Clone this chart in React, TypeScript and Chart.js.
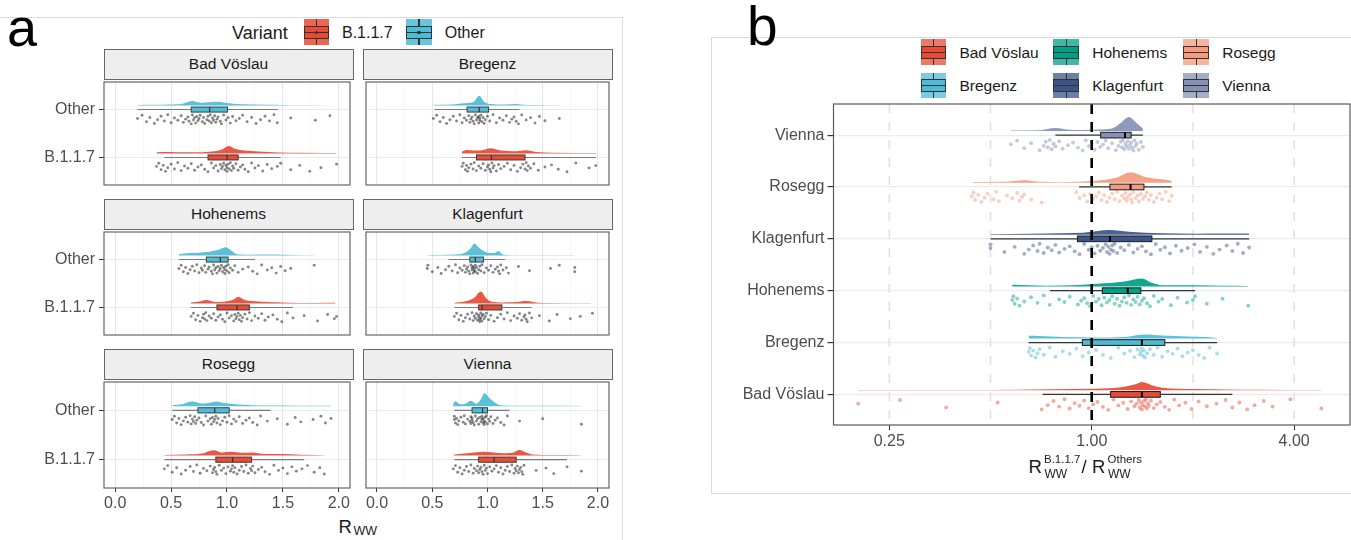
import React, { useEffect, useRef } from 'react';
import { Chart, registerables } from 'chart.js';

Chart.register(...registerables);

const FONT = '"Liberation Sans", Arial, Helvetica, sans-serif';
Chart.defaults.font.family = FONT;

/* ================= Panel a : data ================= */
const FACETS = ['Bad Vöslau', 'Bregenz', 'Hohenems', 'Klagenfurt', 'Rosegg', 'Vienna'];
const VARIANTS = ['Other', 'B.1.1.7'];
const VARIANT_COLORS = ['#4DBBD5', '#E64B35'];
const LEGEND_A_LABELS = ['B.1.1.7', 'Other'];
const LEGEND_A_COLORS = ['#E64B35', '#4DBBD5'];
const X_TICKS_A = [0, 0.5, 1, 1.5, 2];
const X_TICK_LABELS_A = ['0.0', '0.5', '1.0', '1.5', '2.0'];
const X_MINOR_A = [0.25, 0.75, 1.25, 1.75];

// jittered points (R_WW values)
const PTS_BV_OTHER = [0.20,0.24,0.28,0.31,0.35,0.38,0.41,0.44,0.47,0.50,0.53,0.56,0.59,0.61,0.63,0.65,0.66,0.68,0.69,0.70,0.71,0.72,0.73,0.74,0.75,0.76,0.78,0.79,0.80,0.82,0.83,0.84,0.85,0.86,0.87,0.88,0.89,0.90,0.91,0.92,0.94,0.95,0.97,0.99,1.01,1.03,1.05,1.08,1.11,1.14,1.18,1.22,1.26,1.30,1.34,1.38,1.42,1.45,1.57,1.79,1.92];
const PTS_BV_B117 = [0.37,0.39,0.41,0.43,0.45,0.47,0.50,0.53,0.56,0.59,0.62,0.65,0.68,0.71,0.74,0.77,0.80,0.83,0.86,0.88,0.90,0.92,0.94,0.95,0.96,0.97,0.98,0.99,1.00,1.00,1.01,1.02,1.03,1.04,1.05,1.06,1.08,1.10,1.12,1.14,1.16,1.19,1.22,1.25,1.28,1.32,1.36,1.40,1.45,1.48,1.57,1.65,1.74,1.84,1.98];
const PTS_BR_OTHER = [0.51,0.54,0.57,0.60,0.63,0.66,0.69,0.72,0.75,0.77,0.79,0.81,0.83,0.84,0.85,0.86,0.87,0.88,0.89,0.90,0.91,0.92,0.92,0.93,0.93,0.94,0.95,0.96,0.97,0.98,1.00,1.02,1.05,1.08,1.11,1.14,1.17,1.20,1.22,1.24,1.26,1.28,1.31,1.35,1.39,1.43,1.47,1.52,1.65];
const PTS_BR_B117 = [0.77,0.78,0.80,0.81,0.82,0.83,0.85,0.87,0.88,0.90,0.92,0.94,0.96,0.98,1.00,1.01,1.02,1.03,1.04,1.05,1.06,1.08,1.10,1.12,1.15,1.18,1.21,1.24,1.27,1.30,1.32,1.34,1.35,1.36,1.37,1.39,1.42,1.46,1.52,1.58,1.64,1.72,1.80,1.92,1.98];
const PTS_HO_OTHER = [0.57,0.59,0.61,0.63,0.65,0.67,0.69,0.71,0.73,0.75,0.77,0.78,0.80,0.81,0.83,0.84,0.86,0.87,0.88,0.89,0.90,0.91,0.92,0.93,0.94,0.95,0.96,0.97,0.98,0.98,0.99,1.00,1.01,1.02,1.03,1.05,1.07,1.10,1.14,1.19,1.23,1.27,1.31,1.36,1.40,1.44,1.48,1.52,1.57,1.78];
const PTS_HO_B117 = [0.68,0.70,0.72,0.74,0.76,0.78,0.79,0.80,0.81,0.82,0.84,0.86,0.88,0.90,0.92,0.94,0.96,0.98,1.00,1.02,1.04,1.06,1.07,1.08,1.09,1.10,1.11,1.12,1.13,1.14,1.16,1.18,1.20,1.22,1.25,1.28,1.31,1.34,1.37,1.41,1.45,1.49,1.54,1.59,1.69,1.81,1.90,1.96,1.98];
const PTS_KL_OTHER = [0.455,0.46,0.50,0.55,0.58,0.62,0.65,0.68,0.71,0.73,0.75,0.77,0.79,0.80,0.81,0.82,0.83,0.84,0.85,0.86,0.86,0.87,0.87,0.88,0.88,0.89,0.89,0.90,0.91,0.92,0.93,0.94,0.95,0.97,0.99,1.01,1.03,1.05,1.07,1.09,1.10,1.11,1.12,1.14,1.17,1.19,1.28,1.38,1.57,1.65,1.79,1.79];
const PTS_KL_B117 = [0.70,0.72,0.74,0.76,0.78,0.80,0.82,0.84,0.86,0.87,0.88,0.89,0.90,0.91,0.92,0.92,0.93,0.93,0.94,0.94,0.95,0.95,0.96,0.97,0.98,0.99,1.01,1.03,1.06,1.09,1.12,1.15,1.18,1.21,1.24,1.27,1.29,1.31,1.33,1.34,1.35,1.36,1.38,1.40,1.47,1.56,1.63,1.75,1.84,1.95];
const PTS_RO_OTHER = [0.51,0.53,0.55,0.57,0.59,0.61,0.63,0.65,0.67,0.68,0.69,0.70,0.71,0.72,0.73,0.75,0.77,0.79,0.81,0.83,0.85,0.86,0.87,0.88,0.89,0.90,0.91,0.92,0.94,0.96,0.98,1.00,1.02,1.04,1.06,1.08,1.11,1.14,1.17,1.20,1.23,1.27,1.30,1.36,1.45,1.54,1.61,1.66,1.77,1.84,1.88,1.93];
const PTS_RO_B117 = [0.44,0.47,0.51,0.55,0.59,0.63,0.67,0.70,0.73,0.76,0.79,0.82,0.85,0.87,0.88,0.89,0.90,0.91,0.93,0.95,0.97,0.99,1.01,1.03,1.04,1.05,1.06,1.07,1.09,1.11,1.13,1.15,1.17,1.19,1.21,1.22,1.23,1.25,1.28,1.31,1.34,1.38,1.42,1.46,1.50,1.54,1.58,1.62,1.67,1.72,1.78,1.83,1.87];
const PTS_VI_OTHER = [0.70,0.70,0.71,0.72,0.73,0.74,0.76,0.78,0.79,0.80,0.82,0.84,0.85,0.85,0.86,0.86,0.87,0.88,0.89,0.90,0.91,0.92,0.93,0.94,0.95,0.95,0.96,0.96,0.97,0.97,0.98,0.98,0.99,1.00,1.01,1.02,1.03,1.05,1.07,1.09,1.12,1.15,1.18,1.29,1.50,1.85];
const PTS_VI_B117 = [0.69,0.71,0.73,0.75,0.77,0.79,0.81,0.83,0.85,0.87,0.88,0.90,0.91,0.92,0.93,0.94,0.95,0.96,0.97,0.98,0.99,1.00,1.02,1.04,1.06,1.08,1.10,1.12,1.14,1.16,1.18,1.20,1.22,1.24,1.25,1.26,1.27,1.28,1.29,1.30,1.31,1.32,1.33,1.44,1.53,1.60,1.72,1.85];

// box stats: [lower whisker, Q1, median, Q3, upper whisker]
const BOX_BV_OTHER = [0.20, 0.68, 0.845, 1.005, 1.455];
const BOX_BV_B117 = [0.44, 0.83, 1.0, 1.10, 1.48];
const BOX_BR_OTHER = [0.52, 0.815, 0.925, 1.01, 1.29];
const BOX_BR_B117 = [0.77, 0.90, 1.035, 1.34, 1.98];
const BOX_HO_OTHER = [0.57, 0.815, 0.94, 1.01, 1.25];
const BOX_HO_B117 = [0.675, 0.91, 1.09, 1.20, 1.59];
const BOX_KL_OTHER = [0.647, 0.84, 0.89, 0.965, 1.16];
const BOX_KL_B117 = [0.70, 0.92, 0.95, 1.13, 1.40];
const BOX_RO_OTHER = [0.51, 0.74, 0.89, 1.02, 1.39];
const BOX_RO_B117 = [0.44, 0.90, 1.05, 1.22, 1.69];
const BOX_VI_OTHER = [0.70, 0.86, 0.955, 1.0, 1.2];
const BOX_VI_B117 = [0.70, 0.92, 1.06, 1.26, 1.72];

// half-violin density outlines: [x, density]
const DENS_BV_OTHER = [[0.20,0.6],[0.35,0.8],[0.485,1.0],[0.60,1.8],[0.69,4.7],[0.765,2.8],[0.84,3.4],[0.90,4.0],[0.985,3.0],[1.13,1.3],[1.37,0.8],[1.50,0.6],[1.66,0.3],[1.93,0.1]];
const DENS_BV_B117 = [[0.37,1.3],[0.485,1.5],[0.63,1.2],[0.78,1.3],[0.90,2.5],[0.97,5.0],[1.015,7.7],[1.07,5.0],[1.16,3.0],[1.28,2.0],[1.46,1.0],[1.66,0.6],[1.98,0.3]];
const DENS_BR_OTHER = [[0.51,0.7],[0.68,1.0],[0.765,2.0],[0.84,3.0],[0.88,4.3],[0.925,10.3],[0.97,4.0],[1.03,1.5],[1.15,1.0],[1.25,1.5],[1.32,0.8],[1.44,0.5],[1.65,0.2]];
const DENS_BR_B117 = [[0.765,1.5],[0.81,3.5],[0.88,3.0],[0.94,3.0],[1.03,5.3],[1.12,3.0],[1.235,2.2],[1.35,3.3],[1.44,1.5],[1.59,0.6],[1.985,0.3]];
const DENS_HO_OTHER = [[0.57,1.3],[0.66,2.5],[0.75,3.0],[0.84,4.0],[0.925,6.0],[0.99,8.7],[1.04,5.0],[1.09,1.3],[1.22,0.8],[1.43,1.0],[1.57,0.5],[1.78,0.2]];
const DENS_HO_B117 = [[0.675,1.0],[0.75,2.0],[0.81,3.7],[0.90,1.5],[0.985,2.0],[1.06,4.0],[1.10,7.0],[1.16,3.5],[1.28,2.0],[1.43,1.3],[1.66,0.5],[1.90,0.8],[1.97,0.6]];
const DENS_KL_OTHER = [[0.455,0.3],[0.56,0.5],[0.71,1.0],[0.79,2.5],[0.85,8.0],[0.88,12.7],[0.925,8.0],[1.0,3.0],[1.06,2.5],[1.10,4.7],[1.13,1.5],[1.20,0.3],[1.44,0.2],[1.79,0.2]];
const DENS_KL_B117 = [[0.70,0.5],[0.79,2.0],[0.88,6.0],[0.94,12.7],[0.985,6.0],[1.03,2.0],[1.15,1.0],[1.26,1.5],[1.35,2.5],[1.41,1.5],[1.50,0.4],[1.94,0.2]];
const DENS_RO_OTHER = [[0.51,1.0],[0.60,2.0],[0.69,4.7],[0.78,2.7],[0.87,4.0],[0.90,4.7],[0.985,3.0],[1.07,2.0],[1.22,1.0],[1.37,0.6],[1.66,0.5],[1.93,0.3]];
const DENS_RO_B117 = [[0.44,0.5],[0.63,1.0],[0.78,2.0],[0.88,5.3],[0.955,3.0],[1.045,3.7],[1.13,2.7],[1.22,3.0],[1.34,1.5],[1.485,1.5],[1.66,0.8],[1.87,0.3]];
const DENS_VI_OTHER = [[0.69,3.0],[0.71,5.0],[0.75,2.0],[0.79,2.0],[0.85,5.5],[0.90,2.5],[0.94,7.0],[0.97,13.3],[1.03,7.0],[1.09,2.0],[1.15,0.7],[1.29,0.3],[1.5,0.3],[1.85,0.2]];
const DENS_VI_B117 = [[0.69,0.7],[0.79,2.0],[0.88,3.0],[0.97,3.7],[1.06,3.0],[1.15,2.3],[1.235,3.0],[1.29,5.5],[1.35,3.0],[1.41,1.0],[1.59,0.4],[1.85,0.2]];

const FACET_GROUPS = [
  [{ pts: PTS_BV_OTHER, box: BOX_BV_OTHER, dens: DENS_BV_OTHER }, { pts: PTS_BV_B117, box: BOX_BV_B117, dens: DENS_BV_B117 }],
  [{ pts: PTS_BR_OTHER, box: BOX_BR_OTHER, dens: DENS_BR_OTHER }, { pts: PTS_BR_B117, box: BOX_BR_B117, dens: DENS_BR_B117 }],
  [{ pts: PTS_HO_OTHER, box: BOX_HO_OTHER, dens: DENS_HO_OTHER }, { pts: PTS_HO_B117, box: BOX_HO_B117, dens: DENS_HO_B117 }],
  [{ pts: PTS_KL_OTHER, box: BOX_KL_OTHER, dens: DENS_KL_OTHER }, { pts: PTS_KL_B117, box: BOX_KL_B117, dens: DENS_KL_B117 }],
  [{ pts: PTS_RO_OTHER, box: BOX_RO_OTHER, dens: DENS_RO_OTHER }, { pts: PTS_RO_B117, box: BOX_RO_B117, dens: DENS_RO_B117 }],
  [{ pts: PTS_VI_OTHER, box: BOX_VI_OTHER, dens: DENS_VI_OTHER }, { pts: PTS_VI_B117, box: BOX_VI_B117, dens: DENS_VI_B117 }],
];

/* ================= Panel b : data ================= */
const SITES_B = ['Vienna', 'Rosegg', 'Klagenfurt', 'Hohenems', 'Bregenz', 'Bad Vöslau']; // top to bottom
const SITE_COLORS: Record<string, string> = {
  'Bad Vöslau': '#E64B35', 'Bregenz': '#4DBBD5', 'Hohenems': '#00A087',
  'Klagenfurt': '#3C5488', 'Rosegg': '#F39B7F', 'Vienna': '#8491B4',
};
const LEGEND_B = [['Bad Vöslau', 'Bregenz'], ['Hohenems', 'Klagenfurt'], ['Rosegg', 'Vienna']];
const X_TICKS_B = [0.25, 1, 4];
const X_TICK_LABELS_B = ['0.25', '1.00', '4.00'];
const X_GRID_B = [0.25, 0.5, 1, 2, 4];
const REF_B = 1;

const PTS_VIENNA = [0.575,0.60,0.63,0.66,0.70,0.72,0.73,0.74,0.75,0.76,0.77,0.78,0.80,0.82,0.85,0.88,0.91,0.94,0.96,0.98,1.00,1.02,1.04,1.06,1.08,1.10,1.12,1.15,1.18,1.20,1.22,1.23,1.24,1.25,1.26,1.27,1.28,1.29,1.30,1.31,1.32,1.33,1.34,1.35,1.36,1.38,1.40,1.42];
const PTS_ROSEGG = [0.44,0.445,0.45,0.46,0.47,0.48,0.49,0.51,0.52,0.53,0.56,0.58,0.60,0.61,0.62,0.63,0.66,0.71,0.90,0.92,0.95,0.97,0.99,1.01,1.03,1.05,1.07,1.09,1.11,1.13,1.15,1.17,1.19,1.21,1.23,1.25,1.26,1.27,1.28,1.30,1.31,1.32,1.33,1.35,1.37,1.38,1.40,1.42,1.44,1.46,1.48,1.50,1.53,1.56,1.59,1.62,1.66,1.70,1.73];
const PTS_KLAGENFURT = [0.50,0.50,0.55,0.59,0.63,0.65,0.67,0.69,0.70,0.72,0.74,0.76,0.78,0.80,0.83,0.86,0.89,0.92,0.95,0.98,1.00,1.02,1.04,1.06,1.08,1.10,1.11,1.12,1.13,1.14,1.15,1.16,1.17,1.19,1.22,1.25,1.29,1.33,1.37,1.41,1.45,1.50,1.55,1.60,1.65,1.71,1.78,1.85,1.93,2.02,2.10,2.20,2.30,2.40,2.52,2.62,2.72,2.82,2.94];
const PTS_HOHENEMS = [0.58,0.585,0.59,0.60,0.61,0.63,0.66,0.69,0.72,0.75,0.80,0.83,0.86,0.91,0.93,0.95,0.97,0.99,1.01,1.03,1.05,1.07,1.09,1.11,1.13,1.15,1.17,1.19,1.21,1.23,1.25,1.27,1.29,1.31,1.33,1.35,1.37,1.39,1.41,1.43,1.46,1.49,1.53,1.58,1.62,1.72,1.80,1.92,2.00,2.03,2.20,2.45,2.92];
const PTS_BREGENZ = [0.65,0.655,0.66,0.67,0.68,0.69,0.70,0.72,0.75,0.78,0.82,0.86,0.90,0.94,0.98,1.03,1.08,1.14,1.20,1.25,1.30,1.34,1.37,1.39,1.40,1.41,1.42,1.43,1.44,1.46,1.49,1.53,1.57,1.62,1.68,1.74,1.80,1.86,1.93,2.00,2.08,2.16,2.24,2.36];
const PTS_BADV = [0.202,0.269,0.369,0.525,0.71,0.74,0.77,0.80,0.83,0.86,0.89,0.92,0.95,0.98,1.01,1.04,1.08,1.12,1.16,1.20,1.24,1.28,1.31,1.34,1.36,1.38,1.39,1.40,1.41,1.42,1.43,1.44,1.45,1.46,1.47,1.48,1.50,1.53,1.56,1.60,1.65,1.70,1.76,1.82,1.90,1.98,2.08,2.20,2.35,2.50,2.62,2.75,2.90,3.05,3.25,3.45,3.90,4.82];

const BOX_VIENNA = [0.78, 1.063, 1.256, 1.31, 1.42];
const BOX_ROSEGG = [0.917, 1.133, 1.305, 1.43, 1.73];
const BOX_KLAGENFURT = [0.5, 0.907, 1.133, 1.51, 2.94];
const BOX_HOHENEMS = [0.751, 1.075, 1.28, 1.40, 2.03];
const BOX_BREGENZ = [0.649, 0.938, 1.41, 1.65, 2.36];
const BOX_BADV = [0.714, 1.138, 1.41, 1.60, 2.62];

const DENS_VIENNA = [[0.575,0.5],[0.70,0.8],[0.78,3.0],[0.86,1.2],[0.94,1.0],[1.05,1.5],[1.15,2.5],[1.22,8.0],[1.29,14.0],[1.36,8.0],[1.42,2.5]];
const DENS_ROSEGG = [[0.443,0.8],[0.55,1.0],[0.63,2.7],[0.70,1.0],[0.80,0.7],[0.92,1.2],[1.03,2.0],[1.18,5.0],[1.305,10.7],[1.445,6.0],[1.62,3.5],[1.73,2.0]];
const DENS_KLAGENFURT = [[0.5,0.5],[0.65,1.0],[0.82,1.5],[0.94,2.0],[1.13,4.7],[1.29,3.0],[1.62,1.5],[2.03,1.0],[2.5,1.2],[2.94,1.3]];
const DENS_HOHENEMS = [[0.58,1.8],[0.65,1.2],[0.73,0.7],[0.92,1.5],[1.07,3.0],[1.25,5.0],[1.41,8.0],[1.5,4.0],[1.62,1.2],[2.03,1.2],[2.5,0.7],[2.92,0.5]];
const DENS_BREGENZ = [[0.649,2.7],[0.70,2.5],[0.82,1.5],[1.03,1.0],[1.25,1.5],[1.445,4.0],[1.62,3.0],[1.93,2.0],[2.2,1.5],[2.36,0.5]];
const DENS_BADV = [[0.202,0.3],[0.4,0.3],[0.6,0.5],[0.74,1.0],[1.03,1.5],[1.22,3.0],[1.35,6.0],[1.41,8.3],[1.51,5.0],[1.62,2.5],[2.03,1.2],[2.55,0.8],[3.2,0.5],[4.82,0.2]];

const SITE_GROUPS = [
  { pts: PTS_VIENNA, box: BOX_VIENNA, dens: DENS_VIENNA },
  { pts: PTS_ROSEGG, box: BOX_ROSEGG, dens: DENS_ROSEGG },
  { pts: PTS_KLAGENFURT, box: BOX_KLAGENFURT, dens: DENS_KLAGENFURT },
  { pts: PTS_HOHENEMS, box: BOX_HOHENEMS, dens: DENS_HOHENEMS },
  { pts: PTS_BREGENZ, box: BOX_BREGENZ, dens: DENS_BREGENZ },
  { pts: PTS_BADV, box: BOX_BADV, dens: DENS_BADV },
];

// fixed vertical jitter pattern (fractions of the rain band)
const JITTER = [0.42,0.08,0.77,0.31,0.95,0.56,0.18,0.69,0.02,0.87,0.37,0.61,0.13,0.83,0.49,0.26,0.72,0.99,0.05,0.58,0.34,0.91,0.21,0.66];

/* ================= layout / style ================= */
const COLS_A = [[104, 353], [363, 612]];
const ROWS_A = [[79, 188], [229, 338], [379, 488]];
const A_X_MIN = -0.1, A_X_MAX = 2.1;
const A_Y_MIN = 0.425, A_Y_MAX = 2.575;
const B_X_MIN = 0.1706, B_X_MAX = 5.865;
const B_Y_MIN = 0.4, B_Y_MAX = 6.59;

function hexA(hex: string, a: number) {
  const n = parseInt(hex.slice(1), 16);
  return `rgba(${(n >> 16) & 255},${(n >> 8) & 255},${n & 255},${a})`;
}

type Group = { pts: number[]; box: number[]; dens: number[][]; color: string };

function rainDatasets(groups: Group[], st: any) {
  const ds: any[] = [];
  groups.forEach((g, gi) => {
    const cat = gi + 1;
    const base = cat - st.densOffset;
    ds.push({
      type: 'line',
      data: g.dens.map(([x, h]) => ({ x, y: base - h * st.densScale })),
      fill: { value: base },
      backgroundColor: hexA(g.color, st.densAlpha),
      borderColor: 'rgba(0,0,0,0)',
      borderWidth: 0,
      pointRadius: 0,
      cubicInterpolationMode: 'monotone',
    });
  });
  groups.forEach((g, gi) => {
    const cat = gi + 1;
    ds.push({
      type: 'scatter',
      data: g.pts.map((x, i) => ({ x, y: cat + st.jitLo + JITTER[i % JITTER.length] * (st.jitHi - st.jitLo) })),
      backgroundColor: st.ptColor ? st.ptColor : hexA(g.color, st.ptAlpha),
      borderWidth: 0,
      pointRadius: st.ptRadius,
    });
  });
  return ds;
}

function boxPlugin(groups: Group[], st: any, ref?: any) {
  return {
    id: 'rainBoxes',
    beforeDatasetsDraw(chart: any) {
      if (!ref) return;
      const { ctx, chartArea, scales } = chart;
      ctx.save();
      ctx.strokeStyle = ref.gridColor;
      ctx.lineWidth = ref.gridWidth;
      ctx.setLineDash(ref.gridDash);
      ref.grid.forEach((v: number) => {
        const px = scales.x.getPixelForValue(v);
        ctx.beginPath();
        ctx.moveTo(px, chartArea.top);
        ctx.lineTo(px, chartArea.bottom);
        ctx.stroke();
      });
      ctx.restore();
    },
    afterDatasetsDraw(chart: any) {
      const { ctx, chartArea, scales } = chart;
      const x = scales.x, y = scales.y;
      groups.forEach((g, gi) => {
        const cat = gi + 1;
        const [lo, q1, med, q3, hi] = g.box;
        const yc = y.getPixelForValue(cat);
        const yt = y.getPixelForValue(cat - st.boxHalf);
        const yb = y.getPixelForValue(cat + st.boxHalf);
        const xl = x.getPixelForValue(q1), xr = x.getPixelForValue(q3), xm = x.getPixelForValue(med);
        ctx.save();
        ctx.strokeStyle = st.whisker;
        ctx.lineWidth = st.whiskerW;
        ctx.beginPath();
        ctx.moveTo(x.getPixelForValue(lo), yc); ctx.lineTo(xl, yc);
        ctx.moveTo(xr, yc); ctx.lineTo(x.getPixelForValue(hi), yc);
        ctx.stroke();
        ctx.fillStyle = g.color;
        ctx.fillRect(xl, yt, xr - xl, yb - yt);
        ctx.strokeStyle = st.border;
        ctx.lineWidth = st.borderW;
        ctx.strokeRect(xl, yt, xr - xl, yb - yt);
        ctx.strokeStyle = st.median;
        ctx.lineWidth = st.medianW;
        ctx.beginPath(); ctx.moveTo(xm, yt); ctx.lineTo(xm, yb); ctx.stroke();
        ctx.restore();
      });
      if (ref) {
        const px = x.getPixelForValue(ref.value);
        ctx.save();
        ctx.strokeStyle = '#000';
        ctx.lineWidth = ref.width;
        ctx.setLineDash(ref.dash);
        ctx.beginPath();
        ctx.moveTo(px, chartArea.top + ref.dashOffset);
        ctx.lineTo(px, chartArea.bottom);
        ctx.stroke();
        ctx.restore();
      }
    },
    afterDraw(chart: any) {
      const { ctx, chartArea: a } = chart;
      ctx.save();
      ctx.strokeStyle = st.frame;
      ctx.lineWidth = st.frameW;
      ctx.strokeRect(a.left, a.top, a.right - a.left, a.bottom - a.top);
      ctx.restore();
    },
  };
}

const STYLE_A = {
  densOffset: 0.085, densScale: 1 / 50.7, densAlpha: 0.92,
  jitLo: 0.105, jitHi: 0.3, ptColor: 'rgba(0,0,0,0.48)', ptRadius: 1.45,
  boxHalf: 0.053, whisker: '#7a7a7a', whiskerW: 1.1, border: '#333', borderW: 0.9, median: '#333', medianW: 1.2,
  frame: '#666', frameW: 1.2,
};
const STYLE_B = {
  densOffset: 0.08, densScale: 1 / 52.34, densAlpha: 0.92,
  jitLo: 0.09, jitHi: 0.3, ptAlpha: 0.48, ptRadius: 1.95,
  boxHalf: 0.055, whisker: '#333', whiskerW: 1.2, border: '#1a1a1a', borderW: 1, median: '#000', medianW: 2,
  frame: '#5a5a5a', frameW: 1.2,
};

function facetConfig(fi: number, showY: boolean, showX: boolean, yW: number, xH: number, padL: number, padB: number) {
  const groups: Group[] = FACET_GROUPS[fi].map((g, i) => ({ ...g, color: VARIANT_COLORS[i] }));
  const isMajor = (v: number) => X_TICKS_A.indexOf(v) >= 0;
  return {
    type: 'line',
    data: { datasets: rainDatasets(groups, STYLE_A) },
    options: {
      responsive: false, animation: false, events: [],
      layout: { padding: { left: padL, right: 1, top: 1, bottom: padB } },
      plugins: { legend: { display: false }, tooltip: { enabled: false } },
      scales: {
        x: {
          type: 'linear', min: A_X_MIN, max: A_X_MAX,
          afterBuildTicks: (s: any) => { s.ticks = [...X_TICKS_A, ...X_MINOR_A].sort((a, b) => a - b).map((v) => ({ value: v })); },
          ticks: {
            display: showX, autoSkip: false, maxRotation: 0, padding: 2, color: '#4d4d4d', font: { size: 16, family: FONT },
            callback: (v: number) => { const i = X_TICKS_A.indexOf(v); return i >= 0 ? X_TICK_LABELS_A[i] : ''; },
          },
          grid: {
            color: (c: any) => (isMajor(c.tick?.value) ? '#e6e6e6' : '#f3f3f3'),
            lineWidth: (c: any) => (isMajor(c.tick?.value) ? 1.1 : 0.7),
            drawTicks: showX, tickLength: 4, tickWidth: 1,
            tickColor: (c: any) => (isMajor(c.tick?.value) ? '#333' : 'rgba(0,0,0,0)'),
          },
          border: { display: false },
          afterFit: (s: any) => { s.height = xH; s.paddingLeft = 0; s.paddingRight = 0; },
        },
        y: {
          type: 'linear', reverse: true, min: A_Y_MIN, max: A_Y_MAX,
          afterBuildTicks: (s: any) => { s.ticks = VARIANTS.map((_, i) => ({ value: i + 1 })); },
          ticks: {
            display: showY, padding: 4, color: '#4d4d4d', font: { size: 16, family: FONT },
            callback: (v: number) => VARIANTS[v - 1],
          },
          grid: { color: '#ebebeb', lineWidth: 1, drawTicks: showY, tickLength: 5, tickColor: '#333' },
          border: { display: false },
          afterFit: (s: any) => { s.width = yW; s.paddingTop = 0; s.paddingBottom = 0; },
        },
      },
    },
    plugins: [boxPlugin(groups, STYLE_A)],
  };
}

function panelBConfig() {
  const groups: Group[] = SITE_GROUPS.map((g, i) => ({ ...g, color: SITE_COLORS[SITES_B[i]] }));
  return {
    type: 'line',
    data: { datasets: rainDatasets(groups, STYLE_B) },
    options: {
      responsive: false, animation: false, events: [],
      layout: { padding: { left: 0, right: 2, top: 1, bottom: 0 } },
      plugins: { legend: { display: false }, tooltip: { enabled: false } },
      scales: {
        x: {
          type: 'logarithmic', min: B_X_MIN, max: B_X_MAX, bounds: 'data',
          afterBuildTicks: (s: any) => { s.ticks = X_TICKS_B.map((v) => ({ value: v })); },
          ticks: {
            autoSkip: false, maxRotation: 0, padding: 2, color: '#4d4d4d', font: { size: 16, family: FONT },
            callback: (v: number) => { const i = X_TICKS_B.indexOf(v); return i >= 0 ? X_TICK_LABELS_B[i] : ''; },
          },
          grid: { display: true, drawOnChartArea: false, drawTicks: true, tickLength: 5, tickColor: '#333' },
          border: { display: false },
          afterFit: (s: any) => { s.height = 30; s.paddingLeft = 0; s.paddingRight = 0; },
        },
        y: {
          type: 'linear', reverse: true, min: B_Y_MIN, max: B_Y_MAX,
          afterBuildTicks: (s: any) => { s.ticks = SITES_B.map((_, i) => ({ value: i + 1 })); },
          ticks: { padding: 3, color: '#4d4d4d', font: { size: 16, family: FONT }, callback: (v: number) => SITES_B[v - 1] },
          grid: { color: '#ebebeb', lineWidth: 1.2, tickLength: 6, tickColor: '#333' },
          border: { display: false },
          afterFit: (s: any) => { s.width = 121.5; s.paddingTop = 0; s.paddingBottom = 0; },
        },
      },
    },
    plugins: [boxPlugin(groups, STYLE_B, {
      value: REF_B, width: 2.6, dash: [10, 8], dashOffset: 0,
      grid: X_GRID_B, gridColor: '#e2e2e2', gridWidth: 1.6, gridDash: [9, 9],
    })],
  };
}

function ChartCanvas({ left, top, width, height, make }: any) {
  const ref = useRef<HTMLCanvasElement>(null);
  useEffect(() => {
    const chart = new Chart(ref.current as HTMLCanvasElement, make());
    return () => chart.destroy();
  }, []);
  return <canvas ref={ref} width={width} height={height} style={{ position: 'absolute', left, top, width, height }} />;
}

function T({ x, y, size, anchor = 'start', color = '#1a1a1a', children }: any) {
  const tx = anchor === 'middle' ? '-50%' : anchor === 'end' ? '-100%' : '0';
  return (
    <div style={{ position: 'absolute', left: x, top: y - 0.8465 * size, fontSize: size, lineHeight: `${size}px`,
      fontFamily: FONT, color, whiteSpace: 'nowrap', transform: `translateX(${tx})` }}>{children}</div>
  );
}

function Key({ x, y, w, h, color, outerAlpha, dot }: any) {
  const line = '#333';
  return (
    <div style={{ position: 'absolute', left: x, top: y, width: w, height: h }}>
      <div style={{ position: 'absolute', left: 0, top: 0, width: w, height: h, background: hexA(color, outerAlpha) }} />
      <div style={{ position: 'absolute', left: w / 2 - 0.6, top: 0, width: 1.2, height: h, background: line }} />
      <div style={{ position: 'absolute', left: 0, top: h * 0.25, width: w, height: h * 0.5, background: color, border: `1px solid ${line}`, boxSizing: 'border-box' }} />
      <div style={{ position: 'absolute', left: 0, top: h / 2 - 0.6, width: w, height: 1.2, background: line }} />
      {dot && <div style={{ position: 'absolute', left: w / 2 - 1.6, top: h / 2 - 1.6, width: 3.2, height: 3.2, borderRadius: 2, background: '#333' }} />}
    </div>
  );
}

function Facet({ i }: any) {
  const row = Math.floor(i / 2), col = i % 2;
  const [cl, cr] = COLS_A[col];
  const [rt, rb] = ROWS_A[row];
  const showY = col === 0, showX = row === 2;
  const canvasLeft = showY ? 0 : cl - 1;
  const yW = showY ? cl : 0;
  const padL = showY ? 0 : 1;
  const xH = showX ? 26 : 0;
  const padB = showX ? 0 : 1;
  const width = cr + 1 - canvasLeft;
  const height = 1 + (rb - rt) + (showX ? xH : 1);
  const stripTop = rt - 30;
  return (
    <>
      <div style={{ position: 'absolute', left: cl - 0.5, top: stripTop - 0.5, width: cr - cl + 1, height: 31,
        background: '#eeeeee', border: '1px solid #666', boxSizing: 'border-box' }} />
      <T x={(cl + cr) / 2} y={stripTop + 20.5} size={15.5} anchor="middle">{FACETS[i]}</T>
      <ChartCanvas left={canvasLeft} top={rt - 1} width={width} height={height}
        make={() => facetConfig(i, showY, showX, yW, xH, padL, padB)} />
    </>
  );
}

export default function App() {
  return (
    <div style={{ position: 'fixed', left: 0, top: 0, width: 1351, height: 540, overflow: 'hidden', background: '#fff', fontFamily: FONT }}>
      {/* outer frames */}
      <div style={{ position: 'absolute', left: 0, top: 17, width: 622, height: 1, background: '#dadada' }} />
      <div style={{ position: 'absolute', left: 622, top: 17, width: 1, height: 530, background: '#dadada' }} />
      <div style={{ position: 'absolute', left: 711, top: 37, width: 700, height: 457, border: '1px solid #dadada', boxSizing: 'border-box' }} />

      {/* panel letters */}
      <T x={7} y={45.5} size={54} color="#000">a</T>
      <T x={747} y={45.5} size={55} color="#000">b</T>

      {/* panel a legend */}
      <T x={232} y={39.5} size={18}>Variant</T>
      <Key x={303.6} y={19.3} w={25.3} h={25.7} color={LEGEND_A_COLORS[0]} outerAlpha={0.85} dot />
      <T x={342} y={38.8} size={16}>{LEGEND_A_LABELS[0]}</T>
      <Key x={406.3} y={19.3} w={25.3} h={25.7} color={LEGEND_A_COLORS[1]} outerAlpha={0.85} dot />
      <T x={444.7} y={38.8} size={16}>{LEGEND_A_LABELS[1]}</T>

      {FACETS.map((f, i) => <Facet key={f} i={i} />)}

      {/* panel a x title */}
      <T x={338.5} y={533.3} size={18.5}>R</T>
      <T x={353.5} y={536} size={12.5}>WW</T>

      {/* panel b chart */}
      <ChartCanvas left={712} top={100} width={642} height={355} make={panelBConfig} />

      {/* panel b legend */}
      {LEGEND_B.map((colSites, c) =>
        colSites.map((site, r) => {
          const kx = [920.5, 1053.4, 1183.4][c];
          const tx = [959.4, 1092.3, 1222.3][c];
          const ky = [39.3, 72.7][r];
          const ty = [58.3, 91.6][r];
          return (
            <React.Fragment key={site}>
              <Key x={kx} y={ky} w={25.8} h={25.7} color={SITE_COLORS[site]} outerAlpha={0.75} />
              <T x={tx} y={ty} size={15.5}>{site}</T>
            </React.Fragment>
          );
        })
      )}

      {/* panel b x title */}
      <T x={1028.5} y={473.7} size={18.5}>R</T>
      <T x={1044} y={463.5} size={11.5}>B.1.1.7</T>
      <T x={1044.5} y={477.7} size={12}>WW</T>
      <T x={1081.5} y={473.7} size={18.5}>/</T>
      <T x={1092} y={473.7} size={18.5}>R</T>
      <T x={1107.5} y={463.5} size={11.5}>Others</T>
      <T x={1108} y={477.7} size={12}>WW</T>
    </div>
  );
}
